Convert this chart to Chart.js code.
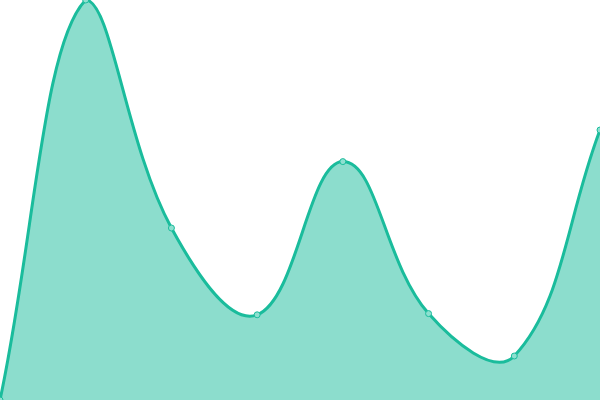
<!DOCTYPE html>
<html>
<head>
<meta charset="utf-8">
<script src="https://cdn.jsdelivr.net/npm/chart.js@4/dist/chart.umd.min.js"></script>
<style>
  html, body { margin: 0; padding: 0; background: #fff; }
  #wrap { width: 600px; height: 400px; position: relative; }
</style>
</head>
<body>
<div id="wrap"><canvas id="grafico"></canvas></div>
<script>
// --- datos ---
const etiquetas = ["A", "B", "C", "D", "E", "F", "G", "H"];
const valores = [0, 100, 43, 21.3, 59.6, 21.6, 11, 67.5];

window.addEventListener("DOMContentLoaded", () => {
  const ctx = document.getElementById("grafico");
  new Chart(ctx, {
    type: "line",
    data: {
      labels: etiquetas,
      datasets: [{
        data: valores,
        fill: true,
        tension: 0.4,
        borderColor: "#1abc9c",
        backgroundColor: "rgba(26,188,156,0.5)",
        borderWidth: 3,
        pointRadius: 3,
        pointBorderWidth: 1,
        pointBackgroundColor: "#8ee0d0",
        pointBorderColor: "#1abc9c"
      }]
    },
    options: {
      responsive: true,
      maintainAspectRatio: false,
      animation: false,
      layout: { padding: 0, autoPadding: false },
      plugins: {
        legend: { display: false },
        tooltip: { enabled: false }
      },
      scales: {
        x: { display: false },
        y: { display: false }
      }
    }
  });
});
</script>
</body>
</html>
